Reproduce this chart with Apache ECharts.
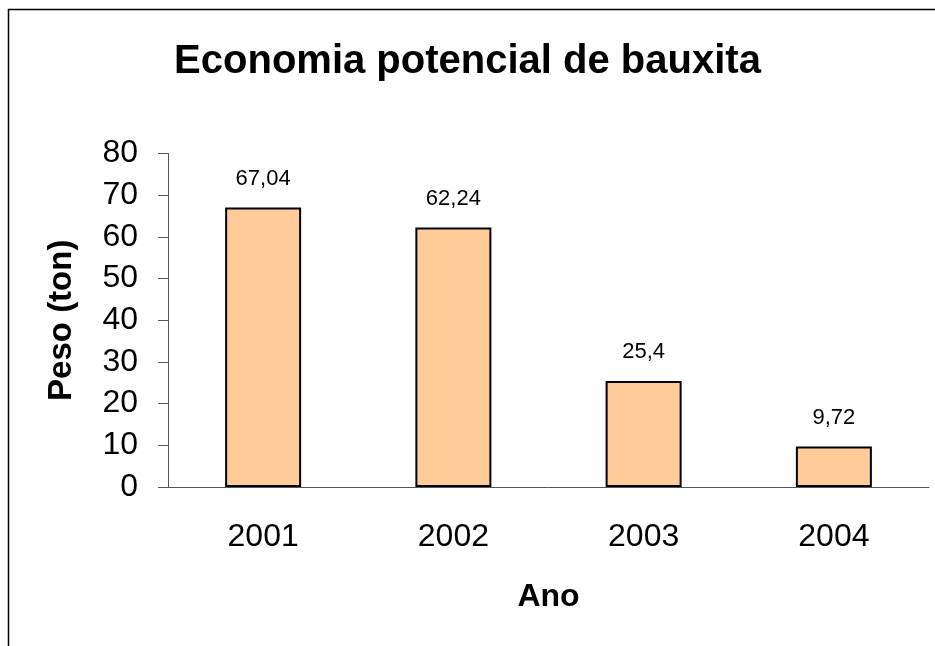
<!DOCTYPE html>
<html>
<head>
<meta charset="utf-8">
<script src="https://cdn.jsdelivr.net/npm/echarts@6/dist/echarts.min.js"></script>
<style>
    html, body { margin: 0; padding: 0; background: #fff; }
    #chart { width: 935px; height: 646px; }
</style>
</head>
<body>
<div id="chart"></div>
<script>
var anos = ['2001', '2002', '2003', '2004'];
var pesos = [67.04, 62.24, 25.4, 9.72];
var yMin = 0, yMax = 80, yStep = 10;

var fonte = '"Liberation Sans", Arial, sans-serif';
var chart = echarts.init(document.getElementById('chart'));

var option = {
    backgroundColor: '#fff',
    animation: false,
    title: {
        text: 'Economia potencial de bauxita',
        left: 'center',
        top: 37,
        textStyle: {
            fontFamily: fonte,
            fontSize: 40,
            fontWeight: 'bold',
            color: '#000'
        }
    },
    // moldura (so aparecem os lados de cima e esquerdo)
    graphic: [{
        type: 'rect',
        shape: { x: 8.5, y: 9.5, width: 1000, height: 1000 },
        style: { fill: 'none', stroke: '#000', lineWidth: 1.5 },
        silent: true
    }],
    grid: {
        left: 168,
        right: 6,
        top: 153.5,
        bottom: 159,
        outerBoundsMode: 'none'
    },
    xAxis: {
        type: 'category',
        data: anos,
        name: 'Ano',
        nameLocation: 'middle',
        nameGap: 94,
        nameTextStyle: {
            fontFamily: fonte,
            fontSize: 32,
            fontWeight: 'bold',
            color: '#000'
        },
        axisLine: { lineStyle: { color: '#555', width: 1 } },
        axisTick: { length: 10, lineStyle: { color: '#555' } },
        axisLabel: {
            fontFamily: fonte,
            fontSize: 32,
            color: '#000',
            margin: 34
        }
    },
    yAxis: {
        type: 'value',
        min: yMin,
        max: yMax,
        interval: yStep,
        name: 'Peso (ton)',
        nameLocation: 'middle',
        nameGap: 90,
        nameTextStyle: {
            fontFamily: fonte,
            fontSize: 33,
            fontWeight: 'bold',
            color: '#000'
        },
        axisLine: { show: true, lineStyle: { color: '#555', width: 1 } },
        axisTick: { show: true, length: 10, lineStyle: { color: '#555' } },
        splitLine: { show: false },
        axisLabel: {
            fontFamily: fonte,
            fontSize: 32,
            color: '#000',
            margin: 30
        }
    },
    series: [{
        type: 'bar',
        data: pesos,
        barWidth: 76,
        itemStyle: {
            color: '#FFCC99',
            borderColor: '#000',
            borderWidth: 2
        },
        label: {
            show: true,
            position: 'top',
            distance: 18,
            fontFamily: fonte,
            fontSize: 22,
            color: '#000',
            formatter: function (p) {
                return String(p.value).replace('.', ',');
            }
        }
    }]
};

chart.setOption(option);
</script>
</body>
</html>
